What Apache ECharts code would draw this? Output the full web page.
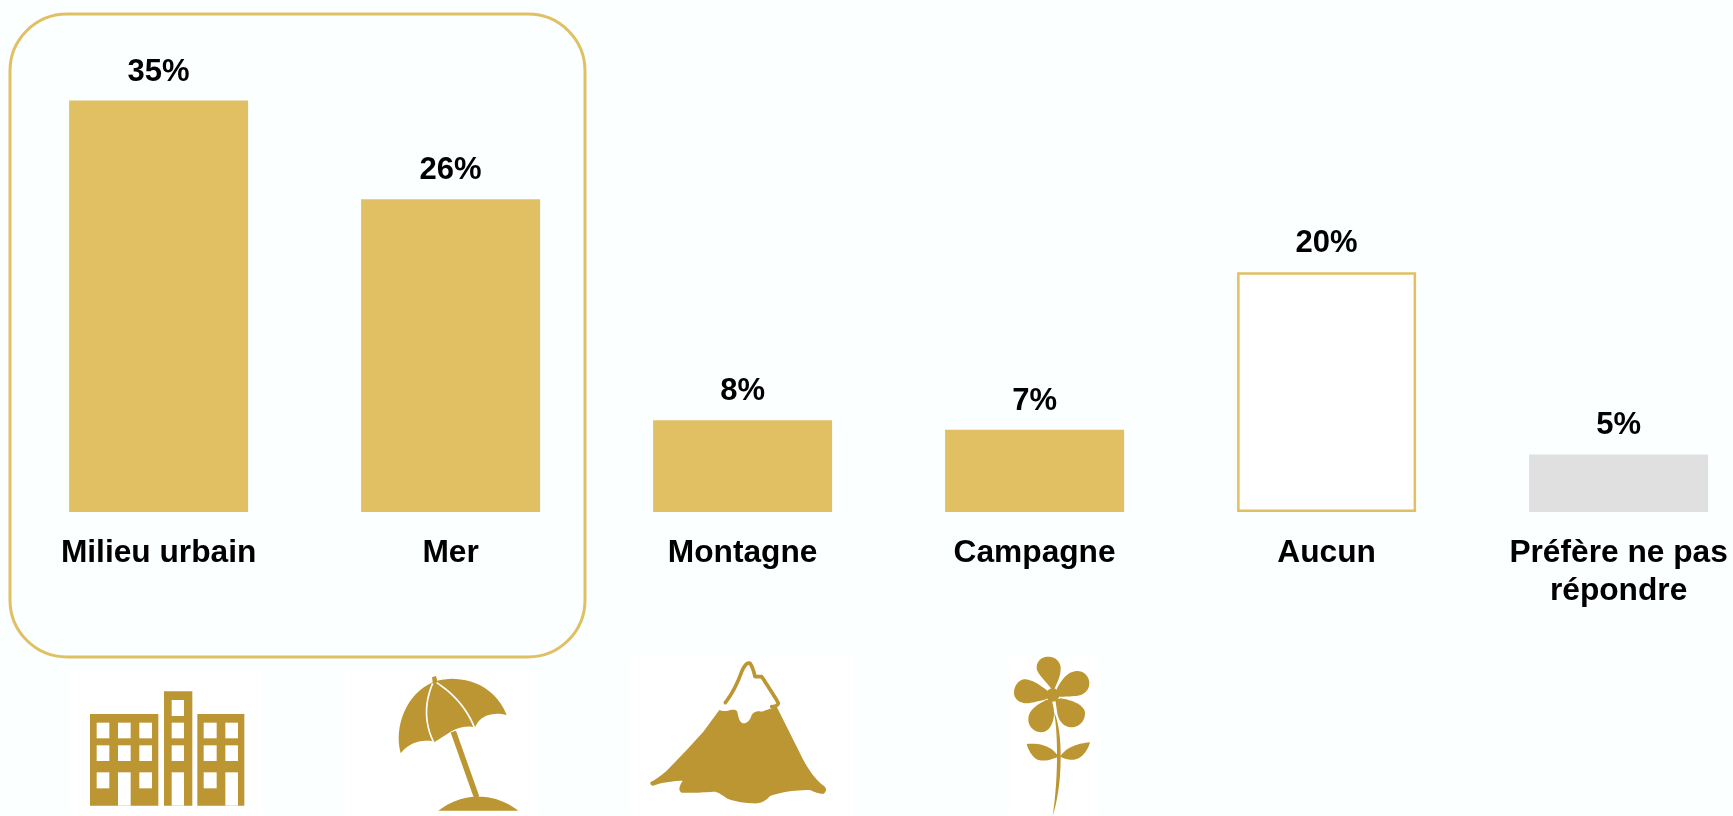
<!DOCTYPE html>
<html><head><meta charset="utf-8">
<style>html,body{margin:0;padding:0;background:#FCFFFF}#c{width:1733px;height:816px}</style>
<script src="https://cdn.jsdelivr.net/npm/echarts@6/dist/echarts.min.js"></script>
</head><body><div id="c"></div>
<script>
const categories = ['Milieu urbain','Mer','Montagne','Campagne','Aucun','Préfère ne pas\nrépondre'];
const barValues = [35,26.6,7.8,7,20.4,4.9];
const valueLabels = ['35%','26%','8%','7%','20%','5%'];
const GOLD='#E0C063', DARK='#BC9633', GREY='#E0E0E0', BG='#FCFFFF';
const FONT='"Liberation Sans", Arial, sans-serif';

function wins(list){return list.map(r=>({type:'rect',shape:{x:r[0],y:r[1],width:r[2]-r[0],height:r[3]-r[1]},style:{fill:'#fff'}}));}
function solid(list){return list.map(r=>({type:'rect',shape:{x:r[0],y:r[1],width:r[2]-r[0],height:r[3]-r[1]},style:{fill:DARK}}));}
// Flatten an icon outline (M/L/Q/C/Z commands) to points for polygon/polyline shapes
function flat(d){
 const t=d.match(/[MLQCZ]|-?[\d.]+/g), pts=[]; let i=0, c=null;
 while(i<t.length){
  if(/[MLQCZ]/.test(t[i])){c=t[i++]; if(c==='Z')continue;}
  if(c==='M'||c==='L'){pts.push([+t[i],+t[i+1]]);i+=2;}
  else if(c==='Q'){const a=pts[pts.length-1],x1=+t[i],y1=+t[i+1],x2=+t[i+2],y2=+t[i+3];i+=4;
   for(let k=1;k<=12;k++){const u=k/12,v=1-u;pts.push([v*v*a[0]+2*v*u*x1+u*u*x2,v*v*a[1]+2*v*u*y1+u*u*y2]);}}
  else if(c==='C'){const a=pts[pts.length-1],x1=+t[i],y1=+t[i+1],x2=+t[i+2],y2=+t[i+3],x3=+t[i+4],y3=+t[i+5];i+=6;
   for(let k=1;k<=16;k++){const u=k/16,v=1-u;pts.push([v*v*v*a[0]+3*v*v*u*x1+3*v*u*u*x2+u*u*u*x3,v*v*v*a[1]+3*v*v*u*y1+3*v*u*u*y2+u*u*u*y3]);}}
 }
 return pts;
}
function raw(d,style){
 if(style&&style.fill==='none')return {type:'polyline',shape:{points:flat(d)},style:style};
 return {type:'polygon',shape:{points:flat(d)},style:style||{fill:DARK}};
}

const buildingWindows=[[110,218,148,265],[174,218,212,265],[238,218,276,265],
[110,286,148,333],[174,286,212,333],[238,286,276,333],
[110,367,148,415],[174,367,212,467],[238,367,276,415],
[335,150,372,198],[335,218,372,265],[335,286,372,333],[335,367,372,467],
[431,218,470,265],[496,218,534,265],[431,286,470,333],[496,286,534,333],
[431,367,470,415],[496,367,534,467]];

const iconLeft={type:'group',x:60,y:650,scaleX:1/3,scaleY:1/3,children:[
 {type:'rect',shape:{x:30,y:65,width:575,height:430},style:{fill:'#fff'}},
 {type:'rect',shape:{x:850,y:65,width:590,height:430},style:{fill:'#fff'}},
 ...solid([[90,192,295,467],[312,124,397,467],[412,192,553,467]]),
 ...wins(buildingWindows),
 raw('M1116 82 L1128 78 L1132 92 C1200 75 1300 95 1340 195 C1300 185 1260 195 1245 232 C1215 225 1190 235 1172 245 L1125 275 C1085 265 1045 280 1022 310 C1000 230 1040 130 1118 97 Z'),
 raw('M1118 100 Q1080 190 1120 275',{fill:'none',stroke:'#fff',lineWidth:5}),
 raw('M1130 98 Q1210 150 1243 232',{fill:'none',stroke:'#fff',lineWidth:5}),
 raw('M1180 245 L1250 442',{fill:'none',stroke:DARK,lineWidth:17}),
 raw('M1135 482 Q1190 440 1255 440 Q1320 440 1375 482 Z')
]};
const iconRight={type:'group',x:620,y:650,scaleX:1/3,scaleY:1/3,children:[
 {type:'rect',shape:{x:30,y:20,width:670,height:475},style:{fill:'#fff'}},
 {type:'rect',shape:{x:1170,y:20,width:270,height:475},style:{fill:'#fff'}},
 raw('M92 396 Q115 385 140 362 L200 300 L250 245 L298 180 Q310 185 325 182 Q345 175 352 185 Q358 222 372 220 Q388 218 395 195 Q405 180 425 185 Q445 178 470 170 L475 180 L550 330 Q580 385 612 408 Q625 420 610 432 Q590 430 570 420 Q500 420 450 438 Q430 462 400 460 Q350 458 320 445 Q295 425 280 425 Q220 430 185 428 Q170 420 188 392 Q130 395 100 407 Q88 405 92 396 Z'),
 raw('M316 158 Q345 120 365 65 Q378 35 390 40 Q398 50 405 80 L425 80 Q445 110 470 150 L475 160 Q470 170 455 170',{fill:'none',stroke:DARK,lineWidth:11,lineJoin:'round',lineCap:'round'}),
 raw('M1297 120 C1275 90 1248 70 1250 50 C1252 30 1268 20 1285 20 C1305 20 1322 35 1322 55 C1322 80 1310 100 1302 120 Z'),
 raw('M1308 122 C1320 95 1340 65 1370 63 C1392 62 1408 80 1408 100 C1408 125 1385 138 1365 138 C1345 140 1330 140 1318 140 Z'),
 raw('M1282 122 C1260 105 1235 87 1212 88 C1195 90 1182 108 1182 128 C1182 148 1200 160 1222 160 C1240 158 1260 152 1280 148 Z'),
 raw('M1278 150 C1250 165 1225 180 1225 208 C1225 232 1245 247 1265 247 C1290 245 1302 215 1302 190 C1302 175 1298 160 1295 150 Z'),
 raw('M1322 145 C1355 150 1395 165 1395 190 C1395 215 1375 232 1355 232 C1330 232 1315 210 1312 190 L1306 150 Z'),
 {type:'circle',shape:{cx:1298,cy:135,r:20},style:{fill:DARK}},
 raw('M1302 185 Q1322 230 1322 320 Q1322 420 1298 498 Q1312 400 1311 300 Q1310 230 1302 185 Z'),
 raw('M1220 282 C1250 278 1295 285 1315 320 C1290 332 1265 335 1250 328 C1235 318 1225 300 1220 282 Z'),
 raw('M1410 277 C1375 280 1340 290 1320 320 C1345 332 1365 332 1380 322 C1395 312 1405 295 1410 277 Z')
]};

const barStyle=[GOLD,GOLD,GOLD,GOLD,null,GREY];
const chart=echarts.init(document.getElementById('c'),null,{renderer:'canvas'});
chart.setOption({
 animation:false,
 backgroundColor:BG,
 grid:{left:12.6,top:100.6,width:1752,height:411.4,containLabel:false,outerBoundsMode:'none'},
 xAxis:{type:'category',data:categories,axisLine:{show:false},axisTick:{show:false},
  axisLabel:{interval:0,margin:22,color:'#000',fontFamily:FONT,fontWeight:'bold',fontSize:31.7,lineHeight:38.5,hideOverlap:false,verticalAlign:'top'}},
 yAxis:{type:'value',min:0,max:35,show:false,splitLine:{show:false}},
 series:[{type:'bar',barWidth:179,
  data:barValues.map((v,i)=>({value:v,itemStyle:barStyle[i]?{color:barStyle[i]}:{color:'#fff',borderColor:GOLD,borderWidth:2.5}})),
  label:{show:true,position:'top',distance:13,color:'#000',fontFamily:FONT,fontWeight:'bold',fontSize:31,
   formatter:o=>valueLabels[o.dataIndex]}}],
 graphic:[
  {type:'rect',z:10,shape:{x:10,y:14,width:575,height:643,r:57},style:{fill:'none',stroke:GOLD,lineWidth:3}},
  iconLeft,iconRight
 ]
});
</script></body></html>
